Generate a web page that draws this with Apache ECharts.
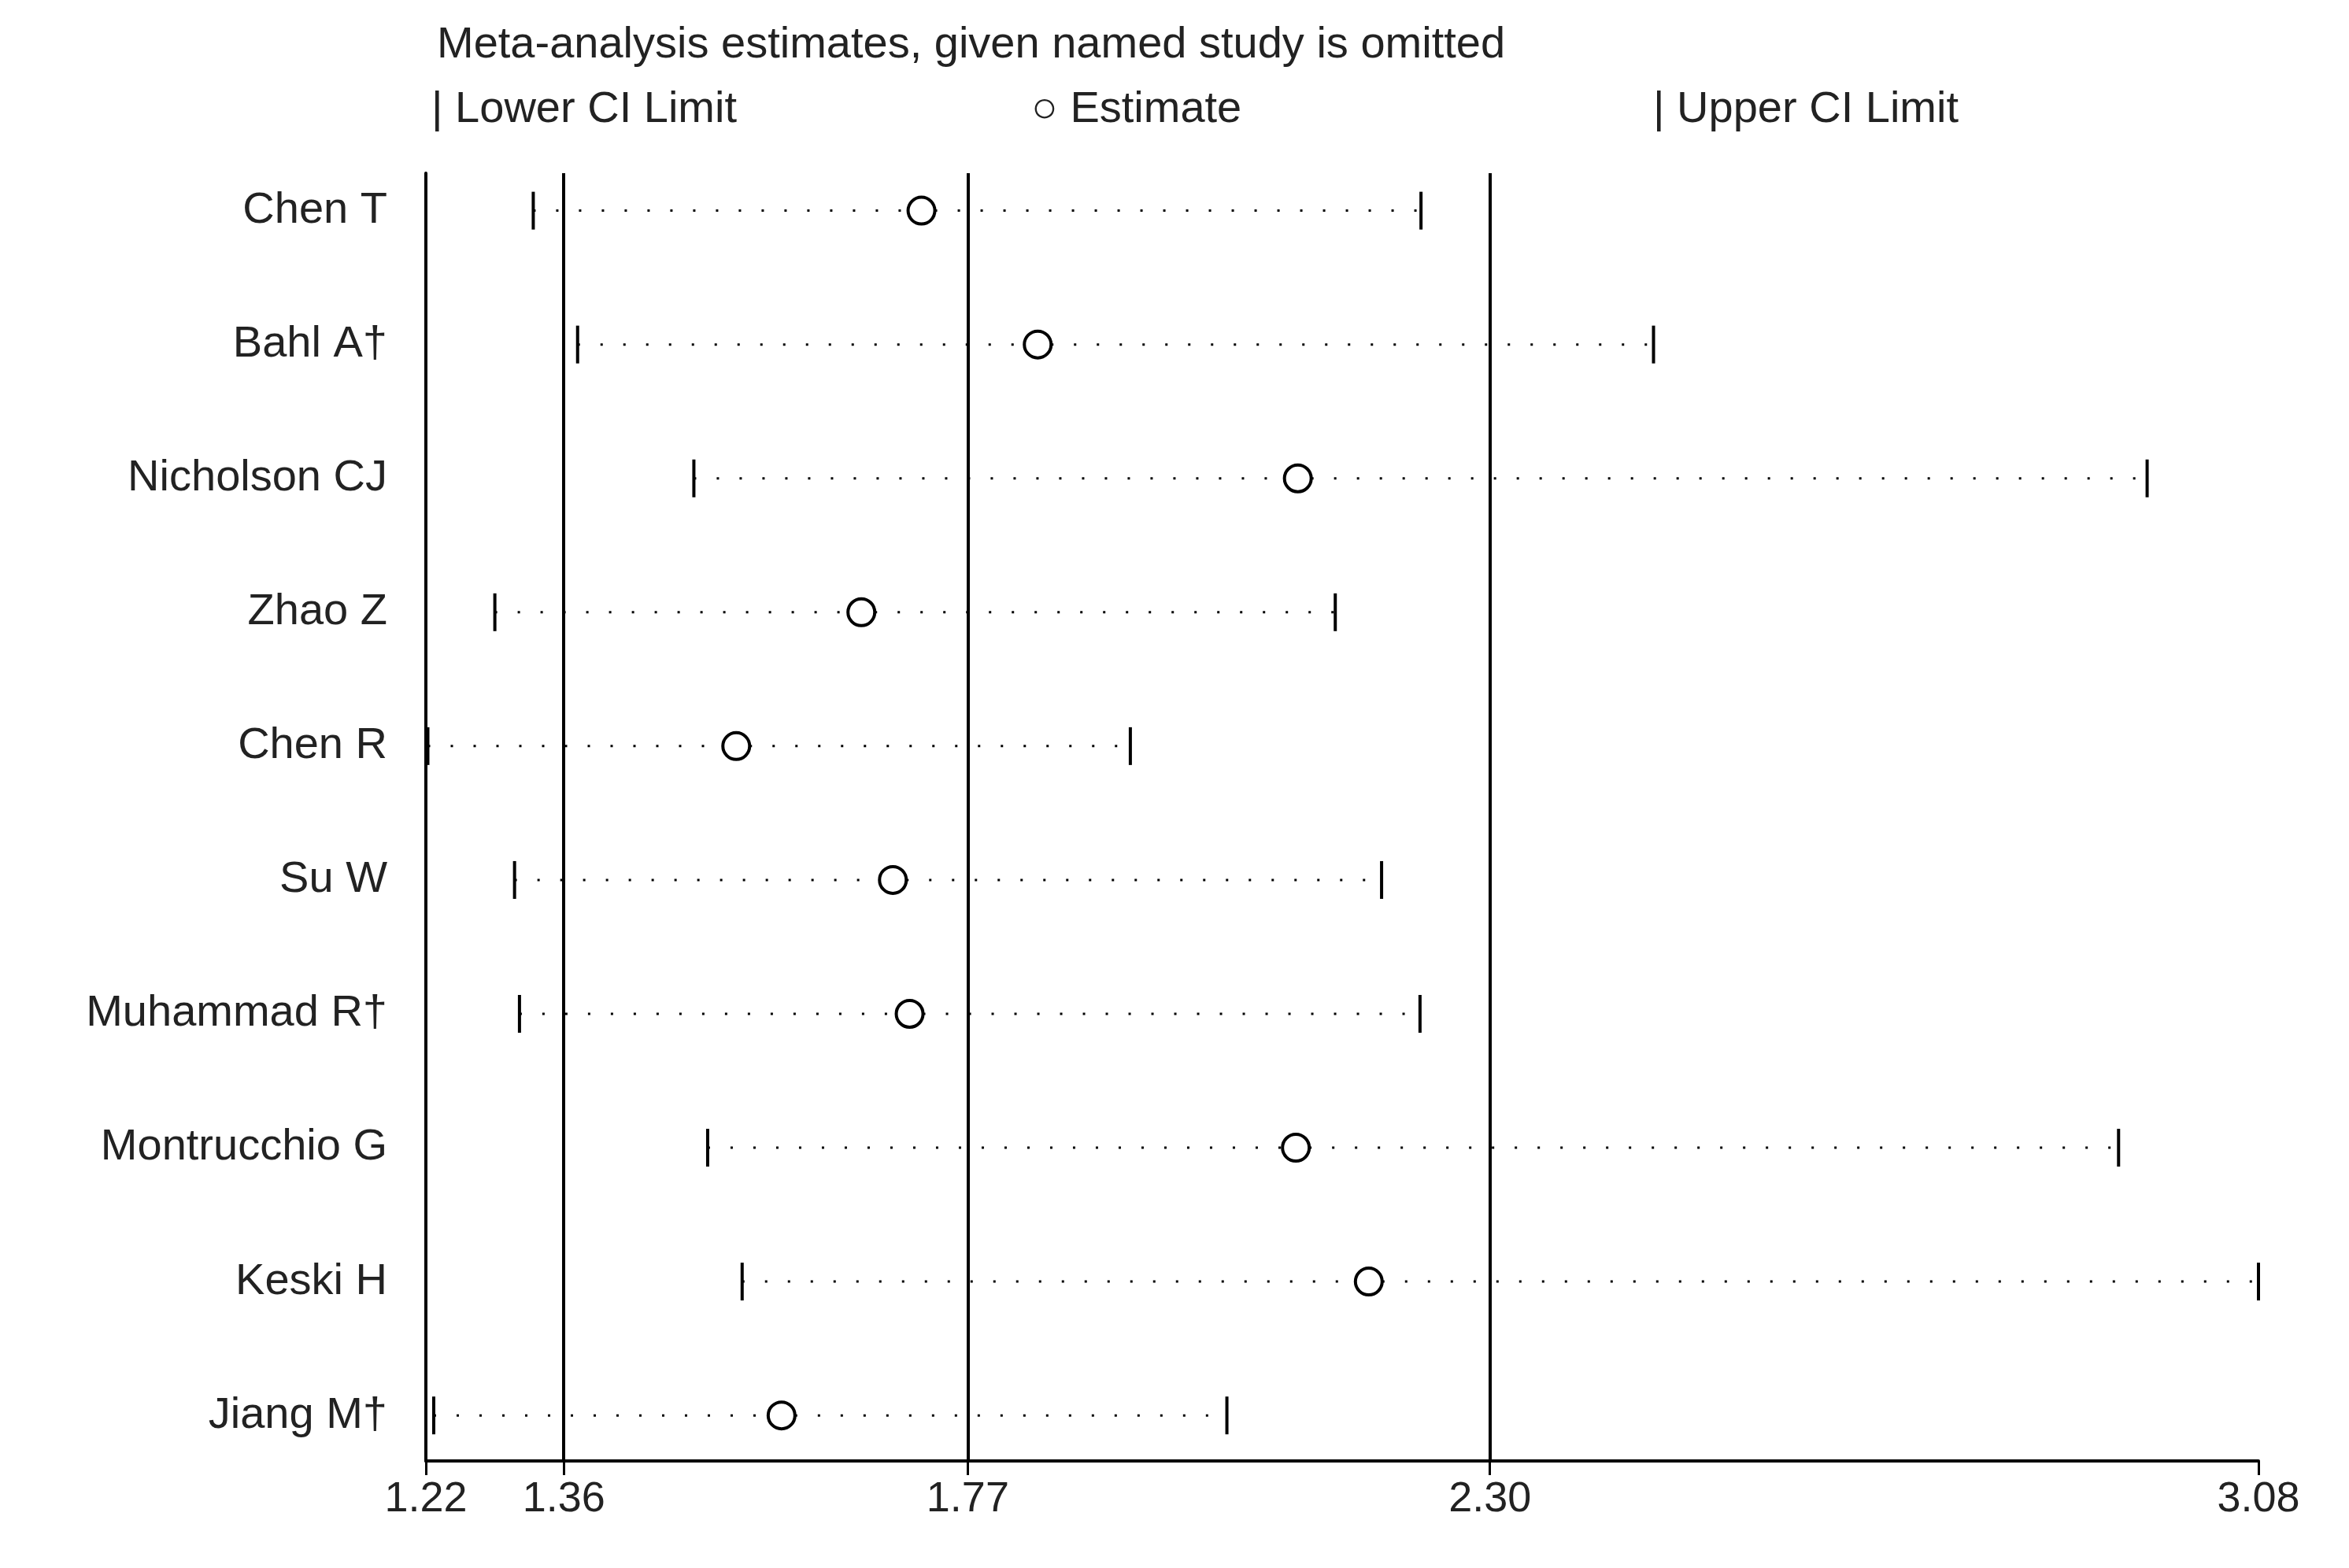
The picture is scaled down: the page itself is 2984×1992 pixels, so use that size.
<!DOCTYPE html>
<html>
<head>
<meta charset="utf-8">
<script src="https://cdn.jsdelivr.net/npm/echarts@6/dist/echarts.min.js"></script>
<style>html,body{margin:0;padding:0;background:#fff}#chart{width:2984px;height:1992px}</style>
</head>
<body>
<div id="chart"></div>
<script>
// 研究名称及估计值
var studies = ['Chen T', 'Bahl A\u2020', 'Nicholson CJ', 'Zhao Z', 'Chen R', 'Su W', 'Muhammad R\u2020', 'Montrucchio G', 'Keski H', 'Jiang M\u2020'];
var lowerCI = [1.329, 1.374, 1.492, 1.290, 1.222, 1.310, 1.315, 1.506, 1.541, 1.228];
var estimate = [1.723, 1.841, 2.105, 1.662, 1.535, 1.694, 1.711, 2.103, 2.177, 1.581];
var upperCI = [2.230, 2.466, 2.967, 2.143, 1.935, 2.190, 2.229, 2.938, 3.080, 2.033];
var xTicks = [1.22, 1.36, 1.77, 2.30, 3.08];
var refLines = [1.36, 1.77, 2.30];

var myChart = echarts.init(document.getElementById('chart'));
var fontFam = 'Arial, "Liberation Sans", sans-serif';
var rows = studies.map(function (s, i) { return [i + 1, lowerCI[i], estimate[i], upperCI[i]]; });

var option = {
    animation: false,
    backgroundColor: '#fff',
    grid: { left: 541, right: 115, top: 220, bottom: 136 },
    xAxis: {
        type: 'value', min: 1.22, max: 3.08,
        axisLine: { show: true, onZero: false, lineStyle: { color: '#000', width: 4 } },
        splitLine: { show: false },
        axisTick: { show: true, length: 18, lineStyle: { color: '#000', width: 3 }, customValues: xTicks },
        axisLabel: { color: '#222', fontSize: 54, fontFamily: fontFam, margin: 22, customValues: xTicks,
            formatter: function (v) { return v.toFixed(2); } }
    },
    yAxis: {
        type: 'value', min: 0.72, max: 10.34, inverse: true,
        axisLine: { show: true, onZero: false, lineStyle: { color: '#000', width: 4 } },
        axisTick: { show: false }, axisLabel: { show: false }, splitLine: { show: false }
    },
    graphic: [
        { type: 'text', left: 555, top: 30, style: { text: 'Meta-analysis estimates, given named study is omitted', fill: '#222', font: '56px ' + fontFam } },
        { type: 'text', left: 548, top: 112, style: { text: '| Lower CI Limit', fill: '#222', font: '56px ' + fontFam } },
        { type: 'text', left: 1310, top: 112, style: { text: '\u25CB Estimate', fill: '#222', font: '56px ' + fontFam } },
        { type: 'text', left: 2100, top: 112, style: { text: '| Upper CI Limit', fill: '#222', font: '56px ' + fontFam } }
    ],
    series: [{
        type: 'custom',
        data: rows,
        encode: { x: [1, 2, 3], y: 0 },
        renderItem: function (params, api) {
            var y = api.value(0);
            var pL = api.coord([api.value(1), y]);
            var pE = api.coord([api.value(2), y]);
            var pU = api.coord([api.value(3), y]);
            var h = 24, r = 17;
            return {
                type: 'group',
                children: [
                    { type: 'line', shape: { x1: pL[0], y1: pL[1], x2: pE[0] - r, y2: pE[1] }, style: { stroke: '#000', lineWidth: 3, lineDash: [3, 26] } },
                    { type: 'line', shape: { x1: pE[0] + r, y1: pE[1], x2: pU[0], y2: pU[1] }, style: { stroke: '#000', lineWidth: 3, lineDash: [3, 26] } },
                    { type: 'line', shape: { x1: pL[0], y1: pL[1] - h, x2: pL[0], y2: pL[1] + h }, style: { stroke: '#000', lineWidth: 4 } },
                    { type: 'line', shape: { x1: pU[0], y1: pU[1] - h, x2: pU[0], y2: pU[1] + h }, style: { stroke: '#000', lineWidth: 4 } },
                    { type: 'circle', shape: { cx: pE[0], cy: pE[1], r: r }, style: { fill: '#fff', stroke: '#000', lineWidth: 4 } },
                    { type: 'text', x: 492, y: pE[1], style: { text: studies[params.dataIndex], align: 'right', verticalAlign: 'middle', fill: '#222', font: '56px ' + fontFam } }
                ]
            };
        },
        markLine: {
            silent: true, symbol: 'none', label: { show: false },
            lineStyle: { color: '#000', width: 4, type: 'solid' },
            data: refLines.map(function (v) { return { xAxis: v }; })
        }
    }]
};
myChart.setOption(option);
</script>
</body>
</html>
